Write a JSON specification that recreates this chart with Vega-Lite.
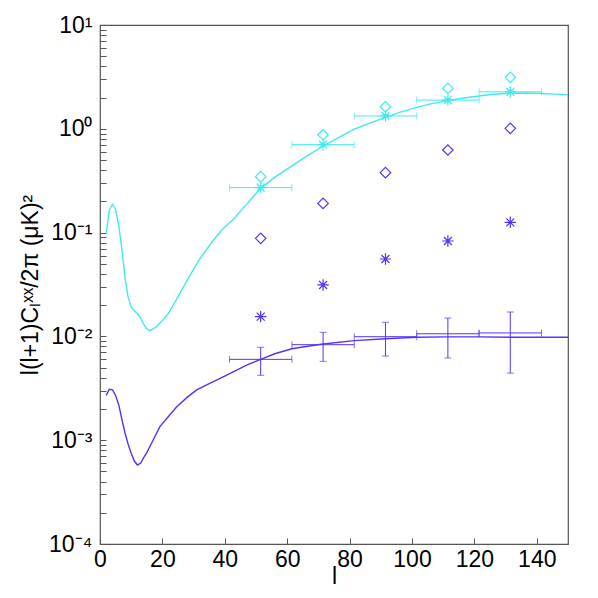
{
  "$schema": "https://vega.github.io/schema/vega-lite/v6.json",
  "autosize": "none",
  "width": 468,
  "height": 519,
  "padding": {"left": 100, "top": 25, "right": 30, "bottom": 54},
  "background": "white",
  "config": {"view": {"stroke": "#555", "strokeWidth": 1.2, "fill": null}, "font": "Liberation Sans"},
  "datasets": {
    "curves": [
      {"spec": "high", "l": 2, "v": 0.1}, {"spec": "high", "l": 3, "v": 0.165}, {"spec": "high", "l": 4, "v": 0.1875}, {"spec": "high", "l": 5, "v": 0.168},
      {"spec": "high", "l": 6, "v": 0.118}, {"spec": "high", "l": 7, "v": 0.07}, {"spec": "high", "l": 8, "v": 0.037}, {"spec": "high", "l": 9, "v": 0.024},
      {"spec": "high", "l": 10, "v": 0.0192}, {"spec": "high", "l": 11, "v": 0.0176}, {"spec": "high", "l": 12, "v": 0.0165}, {"spec": "high", "l": 13, "v": 0.015},
      {"spec": "high", "l": 14, "v": 0.0131}, {"spec": "high", "l": 15, "v": 0.0118}, {"spec": "high", "l": 16, "v": 0.01135}, {"spec": "high", "l": 17, "v": 0.0118},
      {"spec": "high", "l": 18, "v": 0.0124}, {"spec": "high", "l": 20, "v": 0.0142}, {"spec": "high", "l": 22, "v": 0.0168}, {"spec": "high", "l": 25, "v": 0.024},
      {"spec": "high", "l": 28, "v": 0.035}, {"spec": "high", "l": 32, "v": 0.056}, {"spec": "high", "l": 36, "v": 0.082}, {"spec": "high", "l": 39, "v": 0.106},
      {"spec": "high", "l": 43, "v": 0.137}, {"spec": "high", "l": 47, "v": 0.188}, {"spec": "high", "l": 51.5, "v": 0.267}, {"spec": "high", "l": 56, "v": 0.34},
      {"spec": "high", "l": 61.5, "v": 0.44}, {"spec": "high", "l": 66, "v": 0.54}, {"spec": "high", "l": 71.5, "v": 0.683}, {"spec": "high", "l": 76, "v": 0.81},
      {"spec": "high", "l": 81.5, "v": 0.99}, {"spec": "high", "l": 86, "v": 1.12}, {"spec": "high", "l": 91.5, "v": 1.29}, {"spec": "high", "l": 96, "v": 1.44},
      {"spec": "high", "l": 101.5, "v": 1.61}, {"spec": "high", "l": 106, "v": 1.74}, {"spec": "high", "l": 111.5, "v": 1.87}, {"spec": "high", "l": 116, "v": 1.97},
      {"spec": "high", "l": 121.5, "v": 2.07}, {"spec": "high", "l": 126, "v": 2.15}, {"spec": "high", "l": 131.5, "v": 2.2}, {"spec": "high", "l": 136, "v": 2.21},
      {"spec": "high", "l": 141, "v": 2.19}, {"spec": "high", "l": 146, "v": 2.16}, {"spec": "high", "l": 150, "v": 2.13},
      {"spec": "low", "l": 2, "v": 0.0027}, {"spec": "low", "l": 3, "v": 0.0031}, {"spec": "low", "l": 4, "v": 0.00305}, {"spec": "low", "l": 5, "v": 0.0027},
      {"spec": "low", "l": 6, "v": 0.0022}, {"spec": "low", "l": 7, "v": 0.0016}, {"spec": "low", "l": 8, "v": 0.00118}, {"spec": "low", "l": 9, "v": 0.00092},
      {"spec": "low", "l": 10, "v": 0.00075}, {"spec": "low", "l": 11, "v": 0.00063}, {"spec": "low", "l": 12, "v": 0.000577}, {"spec": "low", "l": 13, "v": 0.0006},
      {"spec": "low", "l": 14, "v": 0.00068}, {"spec": "low", "l": 15, "v": 0.00076}, {"spec": "low", "l": 17, "v": 0.001}, {"spec": "low", "l": 19.2, "v": 0.00135},
      {"spec": "low", "l": 22, "v": 0.0017}, {"spec": "low", "l": 24.6, "v": 0.0021}, {"spec": "low", "l": 28, "v": 0.0026}, {"spec": "low", "l": 31, "v": 0.00305},
      {"spec": "low", "l": 35, "v": 0.0035}, {"spec": "low", "l": 38.5, "v": 0.00394}, {"spec": "low", "l": 43, "v": 0.0046}, {"spec": "low", "l": 47, "v": 0.0053},
      {"spec": "low", "l": 51.5, "v": 0.006}, {"spec": "low", "l": 56, "v": 0.0068}, {"spec": "low", "l": 61.5, "v": 0.0076}, {"spec": "low", "l": 66, "v": 0.008},
      {"spec": "low", "l": 71.5, "v": 0.00845}, {"spec": "low", "l": 81.5, "v": 0.0091}, {"spec": "low", "l": 91.5, "v": 0.0095}, {"spec": "low", "l": 101.5, "v": 0.0098},
      {"spec": "low", "l": 111.5, "v": 0.0099}, {"spec": "low", "l": 121.5, "v": 0.0099}, {"spec": "low", "l": 131.5, "v": 0.0098}, {"spec": "low", "l": 141.5, "v": 0.0098},
      {"spec": "low", "l": 150, "v": 0.0098}
    ],
    "pts": [
      {"spec": "high", "kind": "diamond", "l": 51.5, "v": 0.346},
      {"spec": "high", "kind": "diamond", "l": 71.5, "v": 0.877},
      {"spec": "high", "kind": "diamond", "l": 91.5, "v": 1.63},
      {"spec": "high", "kind": "diamond", "l": 111.5, "v": 2.45},
      {"spec": "high", "kind": "diamond", "l": 131.5, "v": 3.13},
      {"spec": "high", "kind": "star", "l": 51.5, "v": 0.271, "xlo": 41.5, "xhi": 61.5, "vlo": 0.262, "vhi": 0.281},
      {"spec": "high", "kind": "star", "l": 71.5, "v": 0.703, "xlo": 61.5, "xhi": 81.5, "vlo": 0.68, "vhi": 0.73},
      {"spec": "high", "kind": "star", "l": 91.5, "v": 1.33, "xlo": 81.5, "xhi": 101.5, "vlo": 1.28, "vhi": 1.38},
      {"spec": "high", "kind": "star", "l": 111.5, "v": 1.89, "xlo": 101.5, "xhi": 121.5, "vlo": 1.82, "vhi": 1.96},
      {"spec": "high", "kind": "star", "l": 131.5, "v": 2.27, "xlo": 121.5, "xhi": 141.5, "vlo": 2.18, "vhi": 2.36},
      {"spec": "low", "kind": "diamond", "l": 51.5, "v": 0.088},
      {"spec": "low", "kind": "diamond", "l": 71.5, "v": 0.191},
      {"spec": "low", "kind": "diamond", "l": 91.5, "v": 0.378},
      {"spec": "low", "kind": "diamond", "l": 111.5, "v": 0.625},
      {"spec": "low", "kind": "diamond", "l": 131.5, "v": 1.01},
      {"spec": "low", "kind": "star", "l": 51.5, "v": 0.0155},
      {"spec": "low", "kind": "star", "l": 71.5, "v": 0.0313},
      {"spec": "low", "kind": "star", "l": 91.5, "v": 0.0557},
      {"spec": "low", "kind": "star", "l": 111.5, "v": 0.083},
      {"spec": "low", "kind": "star", "l": 131.5, "v": 0.1256},
      {"spec": "low", "kind": "cross", "l": 51.5, "v": 0.00601, "xlo": 41.5, "xhi": 61.5, "vlo": 0.00422, "vhi": 0.00785},
      {"spec": "low", "kind": "cross", "l": 71.5, "v": 0.00832, "xlo": 61.5, "xhi": 81.5, "vlo": 0.00575, "vhi": 0.01094},
      {"spec": "low", "kind": "cross", "l": 91.5, "v": 0.00993, "xlo": 81.5, "xhi": 101.5, "vlo": 0.00647, "vhi": 0.01368},
      {"spec": "low", "kind": "cross", "l": 111.5, "v": 0.0106, "xlo": 101.5, "xhi": 121.5, "vlo": 0.0062, "vhi": 0.01503},
      {"spec": "low", "kind": "cross", "l": 131.5, "v": 0.0108, "xlo": 121.5, "xhi": 141.5, "vlo": 0.00443, "vhi": 0.01718}
    ]
  },
  "layer": [
    {
      "data": {"name": "curves"},
      "mark": {"type": "line", "strokeWidth": 1.4, "clip": true},
      "encoding": {
        "x": {"field": "l", "type": "quantitative", "scale": {"domain": [0, 150], "nice": false, "zero": false}, "axis": {"values": [0, 5, 10, 15, 20, 25, 30, 35, 40, 45, 50, 55, 60, 65, 70, 75, 80, 85, 90, 95, 100, 105, 110, 115, 120, 125, 130, 135, 140, 145], "labelExpr": "datum.value % 20 == 0 ? datum.label : ''", "grid": false, "domain": false, "tickColor": "#555", "tickSize": -6, "labelFontSize": 23, "labelColor": "black", "labelPadding": 10, "title": "l", "titleFontSize": 23, "titleFontWeight": "normal", "titleColor": "black", "titlePadding": -6, "labelFlush": false, "labelOverlap": false}},
        "y": {"field": "v", "type": "quantitative", "scale": {"type": "log", "domain": [0.0001, 10], "nice": false}, "axis": {"values": [0.0001, 0.0002, 0.0003, 0.0004, 0.0005, 0.0006, 0.0007, 0.0008, 0.0009, 0.001, 0.002, 0.003, 0.004, 0.005, 0.006, 0.007, 0.008, 0.009, 0.01, 0.02, 0.03, 0.04, 0.05, 0.06, 0.07, 0.08, 0.09, 0.1, 0.2, 0.3, 0.4, 0.5, 0.6, 0.7, 0.8, 0.9, 1, 2, 3, 4, 5, 6, 7, 8, 9, 10], "grid": false, "domain": false, "tickColor": "#555", "tickSize": -6, "labelFontSize": 23, "labelColor": "black", "labelPadding": 14, "labelOverlap": false, "labelExpr": "datum.value == 10 ? '10¹' : datum.value == 1 ? '10⁰' : datum.value == 0.1 ? '10⁻¹' : datum.value == 0.01 ? '10⁻²' : datum.value == 0.001 ? '10⁻³' : datum.value == 0.0001 ? '10⁻⁴' : ''", "title": "l(l+1)Cₗˣˣ/2π (μK)²", "titleFontSize": 23, "titleFontWeight": "normal", "titleColor": "black", "titlePadding": 6, "labelFlush": false}},
        "detail": {"field": "spec"},
        "color": {"field": "spec", "type": "nominal", "scale": {"domain": ["high", "low"], "range": ["#3FEAEF", "#5533F2"]}, "legend": null}
      }
    },
    {
      "data": {"name": "pts"},
      "transform": [{"filter": "isValid(datum.xlo)"}],
      "mark": {"type": "rule", "strokeWidth": 1},
      "encoding": {
        "x": {"field": "xlo", "type": "quantitative"},
        "x2": {"field": "xhi"},
        "y": {"field": "v", "type": "quantitative"},
        "color": {"field": "spec", "type": "nominal", "legend": null}
      }
    },
    {
      "data": {"name": "pts"},
      "transform": [{"filter": "isValid(datum.xlo)"}],
      "mark": {"type": "tick", "orient": "vertical", "size": 7, "thickness": 1},
      "encoding": {
        "x": {"field": "xlo", "type": "quantitative"},
        "y": {"field": "v", "type": "quantitative"},
        "color": {"field": "spec", "type": "nominal", "legend": null}
      }
    },
    {
      "data": {"name": "pts"},
      "transform": [{"filter": "isValid(datum.xhi)"}],
      "mark": {"type": "tick", "orient": "vertical", "size": 7, "thickness": 1},
      "encoding": {
        "x": {"field": "xhi", "type": "quantitative"},
        "y": {"field": "v", "type": "quantitative"},
        "color": {"field": "spec", "type": "nominal", "legend": null}
      }
    },
    {
      "data": {"name": "pts"},
      "transform": [{"filter": "isValid(datum.vlo)"}],
      "mark": {"type": "rule", "strokeWidth": 1},
      "encoding": {
        "x": {"field": "l", "type": "quantitative"},
        "y": {"field": "vlo", "type": "quantitative"},
        "y2": {"field": "vhi"},
        "color": {"field": "spec", "type": "nominal", "legend": null}
      }
    },
    {
      "data": {"name": "pts"},
      "transform": [{"filter": "isValid(datum.vlo)"}],
      "mark": {"type": "tick", "orient": "horizontal", "size": 7, "thickness": 1},
      "encoding": {
        "x": {"field": "l", "type": "quantitative"},
        "y": {"field": "vlo", "type": "quantitative"},
        "color": {"field": "spec", "type": "nominal", "legend": null}
      }
    },
    {
      "data": {"name": "pts"},
      "transform": [{"filter": "isValid(datum.vhi)"}],
      "mark": {"type": "tick", "orient": "horizontal", "size": 7, "thickness": 1},
      "encoding": {
        "x": {"field": "l", "type": "quantitative"},
        "y": {"field": "vhi", "type": "quantitative"},
        "color": {"field": "spec", "type": "nominal", "legend": null}
      }
    },
    {
      "data": {"name": "pts"},
      "transform": [{"filter": "datum.kind == 'diamond'"}],
      "mark": {"type": "point", "shape": "diamond", "filled": false, "size": 110, "strokeWidth": 1.2, "opacity": 1},
      "encoding": {
        "x": {"field": "l", "type": "quantitative"},
        "y": {"field": "v", "type": "quantitative"},
        "color": {"field": "spec", "type": "nominal", "legend": null}
      }
    },
    {
      "data": {"name": "pts"},
      "transform": [{"filter": "datum.kind == 'star'"}],
      "mark": {"type": "point", "shape": "M-1,0L1,0M0,-1L0,1M-0.7,-0.7L0.7,0.7M-0.7,0.7L0.7,-0.7", "filled": false, "size": 130, "strokeWidth": 1.2, "opacity": 1},
      "encoding": {
        "x": {"field": "l", "type": "quantitative"},
        "y": {"field": "v", "type": "quantitative"},
        "color": {"field": "spec", "type": "nominal", "legend": null}
      }
    }
  ]
}
